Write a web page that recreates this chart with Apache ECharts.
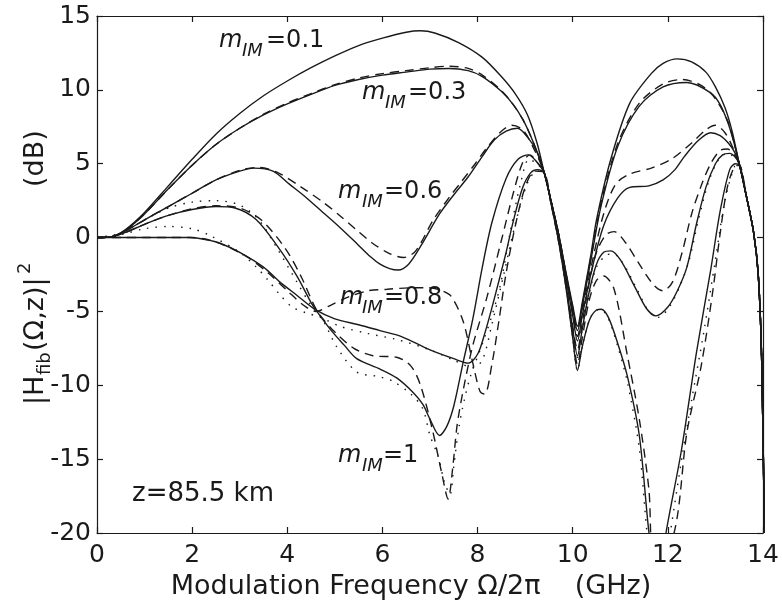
<!DOCTYPE html>
<html>
<head>
<meta charset="utf-8">
<script src="https://cdn.jsdelivr.net/npm/echarts@6/dist/echarts.min.js"></script>
<style>html,body{margin:0;padding:0;background:#fff}#c{width:782px;height:607px}</style>
</head>
<body>
<div id="c"></div>
<script>
// ---- axis ticks ----
var xTicks = [0, 2, 4, 6, 8, 10, 12, 14];
var yTicks = [-20, -15, -10, -5, 0, 5, 10, 15];

// ---- curves: [frequency GHz, |H|^2 dB] ----
var m01Solid = [[0,0],[0.3,0.05],[0.6,0.55],[1,1.7],[1.5,3.5],[2,5.3],[2.5,7.0],[3,8.4],[3.5,9.6],[4,10.6],[4.5,11.5],[5,12.3],[5.5,13.0],[6,13.5],[6.5,13.9],[6.8,14.0],[7.1,13.85],[7.6,13.2],[8.1,12.2],[8.5,10.9],[8.8,9.7],[9.05,8.3],[9.25,6.4],[9.4,4.4],[9.55,2.4],[9.7,0.3],[9.85,-2.2],[10.0,-4.6],[10.1,-6.0],[10.2,-4.4],[10.38,-1.2],[10.5,1.2],[10.8,5.3],[11.2,9.1],[11.65,11.1],[11.9,11.8],[12.2,12.1],[12.5,11.9],[12.8,11.2],[13.0,10.2],[13.2,8.8],[13.35,7.2],[13.5,5.0],[13.65,2.8],[13.8,0.4],[13.9,-2.5],[13.97,-8],[14.03,-20]];

var m03Solid = [[0,0],[0.3,0.05],[0.6,0.5],[1,1.6],[1.5,3.3],[2,4.9],[2.5,6.3],[3,7.4],[3.5,8.3],[4,9.05],[4.5,9.7],[5,10.3],[5.5,10.7],[6,11.0],[6.5,11.2],[7,11.4],[7.4,11.45],[7.8,11.3],[8.1,10.9],[8.5,9.9],[8.75,9.0],[8.95,8.0],[9.1,7.0],[9.25,5.8],[9.4,4.4],[9.55,2.4],[9.7,0.3],[9.85,-2.3],[10.0,-4.8],[10.1,-6.3],[10.2,-4.7],[10.4,-1.2],[10.6,2.2],[10.95,6.2],[11.4,8.9],[11.9,10.2],[12.4,10.5],[12.9,9.8],[13.1,9.0],[13.27,7.7],[13.4,6.3],[13.5,5.0],[13.65,2.8],[13.8,0.4],[13.9,-2.5],[13.97,-8],[14.03,-20]];
var m03Dashed = [[0,0],[0.3,0.05],[0.6,0.5],[1,1.6],[1.5,3.3],[2,4.9],[2.5,6.3],[3,7.4],[3.5,8.35],[4,9.1],[4.5,9.75],[5,10.35],[5.5,10.8],[6,11.1],[6.5,11.3],[7,11.5],[7.4,11.6],[7.8,11.45],[8.1,11.0],[8.5,9.95],[8.75,9.0],[8.95,8.0],[9.1,7.0],[9.25,5.8],[9.4,4.4],[9.55,2.4],[9.7,0.3],[9.85,-2.3],[10.0,-4.8],[10.1,-6.2],[10.2,-4.6],[10.4,-1.0],[10.6,2.4],[10.95,6.4],[11.4,9.1],[11.9,10.4],[12.3,10.7],[12.7,10.3],[13.0,9.4],[13.27,7.8],[13.4,6.3],[13.5,5.0],[13.65,2.8],[13.8,0.4],[13.9,-2.5],[13.97,-8],[14.03,-20]];

var m06Solid = [[0,0],[0.3,0.05],[0.6,0.45],[1,1.2],[1.5,2.1],[2,3.0],[2.5,3.9],[3,4.5],[3.3,4.7],[3.7,4.5],[4.05,3.6],[4.4,2.7],[4.75,1.7],[5.1,0.7],[5.46,-0.4],[5.75,-1.3],[5.95,-1.8],[6.15,-2.1],[6.33,-2.2],[6.55,-1.8],[6.8,-0.6],[7.2,1.6],[7.5,2.9],[7.8,4.1],[8.1,5.5],[8.35,6.6],[8.6,7.2],[8.84,7.4],[9.05,6.8],[9.25,5.8],[9.4,4.4],[9.55,2.4],[9.7,0.2],[9.85,-2.6],[10.0,-5.3],[10.1,-7.0],[10.2,-5.3],[10.4,-2.2],[10.65,0.8],[10.95,2.7],[11.2,3.4],[11.6,3.5],[11.9,3.9],[12.15,4.6],[12.35,5.5],[12.65,6.6],[12.9,7.1],[13.1,6.9],[13.27,6.4],[13.4,5.8],[13.5,5.0],[13.65,2.8],[13.8,0.4],[13.9,-2.5],[13.97,-8],[14.03,-20]];
var m06Dashed = [[0,0],[0.3,0.05],[0.6,0.45],[1,1.2],[1.5,2.1],[2,3.0],[2.5,3.9],[3,4.55],[3.4,4.75],[3.8,4.4],[4.3,3.4],[4.75,2.4],[5.1,1.5],[5.46,0.5],[5.8,-0.4],[6.16,-1.1],[6.45,-1.35],[6.7,-0.9],[7.07,1.2],[7.4,2.7],[7.64,3.7],[7.95,5.0],[8.2,6.1],[8.5,7.2],[8.72,7.6],[8.95,7.3],[9.2,5.9],[9.4,4.4],[9.55,2.4],[9.7,0.2],[9.85,-2.5],[10.0,-5.1],[10.1,-6.7],[10.2,-5.0],[10.4,-1.8],[10.65,1.6],[10.9,3.6],[11.2,4.3],[11.65,4.7],[12.07,5.3],[12.5,6.4],[12.8,7.3],[13.0,7.6],[13.2,7.1],[13.35,6.2],[13.5,5.0],[13.65,2.8],[13.8,0.4],[13.9,-2.5],[13.97,-8],[14.03,-20]];

var m08Solid = [[0,0],[0.3,0.05],[0.6,0.35],[1,0.9],[1.5,1.5],[2,1.9],[2.5,2.1],[2.9,2.0],[3.35,1.2],[3.84,-0.8],[4.2,-2.6],[4.5,-4.4],[4.6,-4.9],[4.9,-6.2],[5.2,-7.3],[5.46,-8.2],[5.95,-8.9],[6.3,-9.5],[6.65,-10.5],[6.85,-11.3],[7.0,-12.3],[7.2,-13.4],[7.35,-12.8],[7.5,-11.4],[7.7,-8.4],[7.9,-5.5],[8.1,-2.0],[8.3,1.0],[8.6,4.0],[8.85,5.3],[9.07,5.6],[9.25,5.1],[9.4,4.4],[9.55,2.3],[9.7,0.0],[9.85,-3.0],[10.0,-6.2],[10.1,-8.0],[10.2,-6.2],[10.35,-3.6],[10.5,-1.8],[10.65,-1.0],[10.8,-0.9],[11.0,-1.5],[11.3,-3.3],[11.55,-4.8],[11.75,-5.3],[12.0,-4.7],[12.2,-3.6],[12.4,-2.0],[12.6,0.9],[12.8,3.4],[13.0,5.0],[13.15,5.6],[13.3,5.7],[13.5,5.0],[13.65,2.8],[13.8,0.4],[13.9,-2.5],[13.97,-8],[14.03,-20]];
var m08Dashed = [[0,0],[0.3,0.05],[0.6,0.35],[1,0.9],[1.5,1.5],[2,1.95],[2.5,2.15],[3.0,2.0],[3.45,1.2],[3.95,-0.7],[4.3,-2.7],[4.55,-4.5],[4.7,-5.3],[5.0,-6.4],[5.4,-7.5],[5.8,-8.0],[6.3,-8.1],[6.6,-8.7],[6.8,-10.0],[7.05,-13.0],[7.25,-16.0],[7.38,-17.7],[7.48,-15.5],[7.57,-12.7],[7.7,-10.3],[7.9,-7.3],[8.2,-4.0],[8.5,-0.2],[8.75,3.0],[8.95,5.1],[9.1,5.6],[9.25,5.1],[9.4,4.4],[9.55,2.3],[9.7,0.0],[9.85,-2.9],[10.0,-6.0],[10.1,-7.6],[10.2,-5.8],[10.35,-3.0],[10.5,-1.0],[10.7,0.2],[10.87,0.4],[11.1,-0.3],[11.4,-1.8],[11.7,-3.2],[11.9,-3.6],[12.1,-3.0],[12.3,-1.0],[12.5,1.6],[12.7,3.5],[12.9,5.0],[13.1,5.9],[13.25,6.0],[13.4,5.6],[13.5,5.0],[13.65,2.8],[13.8,0.4],[13.9,-2.5],[13.97,-8],[14.03,-20]];
var m08Dotted = [[0,0],[0.5,0.3],[1,1.2],[1.5,2.0],[2,2.4],[2.5,2.5],[3.0,2.2],[3.4,1.2],[3.8,-0.8],[4.2,-3.0],[4.5,-4.6],[4.75,-5.6],[5.04,-7.4],[5.46,-9.1],[5.9,-9.4],[6.2,-9.7],[6.6,-10.6],[6.85,-11.6],[7.0,-13.4],[7.17,-14.8],[7.3,-16.5],[7.42,-17.4],[7.5,-15.5],[7.6,-13.0],[7.72,-11.0],[7.85,-9.4],[8.1,-7.2],[8.3,-5.3],[8.48,-3.2],[8.7,0.6],[8.9,3.6],[9.08,5.3],[9.25,5.0],[9.4,4.4],[9.55,2.3],[9.7,0.0],[9.85,-3.0],[10.0,-6.2],[10.1,-8.1],[10.2,-6.2],[10.35,-3.8],[10.5,-2.0],[10.7,-1.2],[10.85,-1.1],[11.05,-1.7],[11.35,-3.5],[11.6,-5.0],[11.8,-5.4],[12.05,-4.6],[12.25,-3.3],[12.45,-1.5],[12.65,1.3],[12.85,3.7],[13.05,5.2],[13.25,5.7],[13.5,5.0],[13.65,2.8],[13.8,0.4],[13.9,-2.5],[13.97,-8],[14.03,-20]];

var m1Solid = [[0,0],[0.5,0],[1,0],[1.5,0],[1.95,0],[2.3,-0.15],[2.6,-0.4],[3.0,-1.0],[3.5,-2.0],[3.84,-3.0],[4.2,-3.9],[4.6,-4.9],[5.0,-5.5],[5.5,-5.9],[5.95,-6.3],[6.4,-6.7],[7.0,-7.6],[7.5,-8.2],[7.8,-8.5],[8.0,-7.9],[8.15,-6.5],[8.33,-4.4],[8.6,-1.0],[8.75,1.1],[8.95,3.4],[9.12,4.4],[9.26,4.6],[9.4,4.4],[9.55,2.2],[9.7,-0.2],[9.85,-3.2],[10.0,-6.8],[10.1,-9.0],[10.2,-7.4],[10.35,-5.6],[10.5,-4.9],[10.6,-4.85],[10.75,-5.4],[10.95,-7.2],[11.15,-9.4],[11.4,-13.4],[11.6,-19.9],[11.78,-24],[11.96,-20],[12.28,-14.5],[12.6,-7.8],[12.9,-2.2],[13.1,1.8],[13.3,4.6],[13.42,5.0],[13.5,4.9],[13.65,2.8],[13.8,0.4],[13.9,-2.5],[13.97,-8],[14.03,-20]];
var m1Dashed = [[0,0],[0.5,0],[1,0],[1.5,0],[2,0],[2.4,-0.2],[2.8,-0.7],[3.2,-1.4],[3.6,-2.4],[4.0,-3.6],[4.35,-4.6],[4.6,-5.0],[4.9,-4.6],[5.3,-4.0],[5.7,-3.6],[6.1,-3.5],[6.6,-3.4],[7.0,-3.4],[7.25,-3.6],[7.45,-4.0],[7.7,-5.7],[7.9,-8.5],[8.05,-10.4],[8.15,-10.6],[8.3,-8.6],[8.45,-5.6],[8.6,-2.4],[8.8,0.9],[9.0,3.4],[9.2,4.5],[9.4,4.4],[9.55,2.2],[9.7,-0.2],[9.85,-3.1],[10.0,-6.5],[10.1,-8.6],[10.2,-6.8],[10.35,-4.2],[10.5,-2.9],[10.65,-2.6],[10.87,-3.5],[11.15,-8.0],[11.4,-12.3],[11.6,-17],[11.72,-22],[12.13,-20],[12.4,-13.2],[12.7,-8.7],[12.95,-3.5],[13.1,0.3],[13.25,3.4],[13.4,4.8],[13.5,4.9],[13.65,2.8],[13.8,0.4],[13.9,-2.5],[13.97,-8],[14.03,-20]];
var m1Dotted = [[0,0],[0.5,0.2],[1,0.6],[1.5,0.75],[2.0,0.6],[2.4,0.1],[3.0,-1.0],[3.35,-2.0],[3.6,-2.9],[3.84,-3.85],[4.1,-4.7],[4.4,-5.1],[4.7,-5.4],[5.1,-6.0],[5.7,-6.5],[6.3,-6.9],[7.0,-7.6],[7.5,-8.3],[7.9,-8.8],[8.1,-8.3],[8.3,-5.9],[8.55,-2.5],[8.8,1.0],[9.05,3.7],[9.25,4.5],[9.4,4.4],[9.55,2.2],[9.7,-0.2],[9.85,-3.2],[10.0,-6.8],[10.1,-9.0],[10.2,-7.4],[10.35,-5.6],[10.5,-4.9],[10.6,-4.9],[10.75,-5.5],[10.95,-7.4],[11.15,-9.8],[11.4,-14.3],[11.58,-20.5],[11.8,-25],[12.05,-20],[12.3,-14.8],[12.5,-11],[12.75,-6.5],[13.0,-1.5],[13.2,2.5],[13.4,4.8],[13.5,4.9],[13.65,2.8],[13.8,0.4],[13.9,-2.5],[13.97,-8],[14.03,-20]];

// ---- text ----
var xTitle = 'Modulation Frequency \u03A9/2\u03C0    (GHz)';
var curveLabels = ['0.1', '0.3', '0.6', '0.8', '1'];
var distanceLabel = 'z=85.5 km';

var INK = '#1a1a1a';
var FONT = '"DejaVu Sans", "Liberation Sans", sans-serif';
var DASH = [9, 6];
var DOT = [1.5, 7];

function line(name, data, dash) {
  return {
    name: name, type: 'line', data: data, smooth: 0.3,
    showSymbol: false, symbol: 'none', clip: true,
    lineStyle: { color: INK, width: 1.4, type: dash || 'solid' },
    emphasis: { disabled: true }, z: 3
  };
}

var series = [
  line('m=0.1', m01Solid),
  line('m=0.3', m03Solid), line('m=0.3 dashed', m03Dashed, DASH),
  line('m=0.6', m06Solid), line('m=0.6 dashed', m06Dashed, DASH),
  line('m=0.8', m08Solid), line('m=0.8 dashed', m08Dashed, DASH), line('m=0.8 dotted', m08Dotted, DOT),
  line('m=1', m1Solid), line('m=1 dashed', m1Dashed, DASH), line('m=1 dotted', m1Dotted, DOT)
];

function mLabel(x, baseline, val, dIM, dEq) {
  var cy = baseline - 8;
  return {
    type: 'group', x: x, y: cy, z: 10, silent: true,
    children: [
      { type: 'text', x: 0, y: 0, style: { text: 'm', fontSize: 24, fontStyle: 'italic', fontFamily: FONT, fill: INK, align: 'left', verticalAlign: 'middle' } },
      { type: 'text', x: dIM, y: 10, style: { text: 'IM', fontSize: 18, fontStyle: 'italic', fontFamily: FONT, fill: INK, align: 'left', verticalAlign: 'middle' } },
      { type: 'text', x: dEq, y: 0, style: { text: '=' + val, fontSize: 24, fontFamily: FONT, fill: INK, align: 'left', verticalAlign: 'middle' } }
    ]
  };
}

var chart = echarts.init(document.getElementById('c'), null, { renderer: 'canvas' });
var axisCommon = {
  type: 'value', min: 0, max: 14, interval: 2,
  axisLine: { show: true, onZero: false, lineStyle: { color: INK, width: 1.2 } },
  axisTick: { show: true, inside: true, length: 6, lineStyle: { color: INK, width: 1.2 } },
  splitLine: { show: false }
};
chart.setOption({
  animation: false,
  backgroundColor: '#ffffff',
  grid: { left: 97, right: 19, top: 16, bottom: 74, containLabel: false },
  xAxis: [
    Object.assign({}, axisCommon, {
      position: 'bottom',
      axisLabel: { show: true, margin: 10, fontSize: 25, fontFamily: FONT, color: INK,
        formatter: function (v) { return xTicks.indexOf(v) >= 0 ? String(v) : ''; } },
      name: xTitle, nameLocation: 'middle', nameGap: 40,
      nameTextStyle: { fontSize: 27, fontFamily: FONT, color: INK, padding: [0, 38, 0, 0] }
    }),
    Object.assign({}, axisCommon, { position: 'top', axisLabel: { show: false } })
  ],
  yAxis: [
    Object.assign({}, axisCommon, {
      min: -20, max: 15, interval: 5, position: 'left',
      axisLabel: { show: true, margin: 6, fontSize: 25, fontFamily: FONT, color: INK,
        formatter: function (v) { return yTicks.indexOf(v) >= 0 ? String(v) : ''; } }
    }),
    Object.assign({}, axisCommon, { min: -20, max: 15, interval: 5, position: 'right', axisLabel: { show: false } })
  ],
  series: series,
  graphic: [
    {
      type: 'group', x: 36, y: 405, rotation: Math.PI / 2, silent: true,
      children: [
        { type: 'text', x: 0, y: 0, style: { text: '|H', fontSize: 27, fontFamily: FONT, fill: INK, align: 'left', verticalAlign: 'middle' } },
        { type: 'text', x: 30, y: 9, style: { text: 'fib', fontSize: 18, fontFamily: FONT, fill: INK, align: 'left', verticalAlign: 'middle' } },
        { type: 'text', x: 54, y: 0, style: { text: '(\u03A9,z)|', fontSize: 27, fontFamily: FONT, fill: INK, align: 'left', verticalAlign: 'middle' } },
        { type: 'text', x: 131, y: -11, style: { text: '2', fontSize: 18, fontFamily: FONT, fill: INK, align: 'left', verticalAlign: 'middle' } },
        { type: 'text', x: 218, y: 0, style: { text: '(dB)', fontSize: 27, fontFamily: FONT, fill: INK, align: 'left', verticalAlign: 'middle' } }
      ]
    },
    mLabel(219, 49, curveLabels[0], 23, 47),
    mLabel(362, 101, curveLabels[1], 23, 46),
    mLabel(338, 200, curveLabels[2], 24, 46),
    mLabel(340, 306, curveLabels[3], 22, 44),
    mLabel(338, 464, curveLabels[4], 24, 45),
    { type: 'text', x: 132, y: 494, z: 10, silent: true,
      style: { text: distanceLabel, fontSize: 26, fontFamily: FONT, fill: INK, align: 'left', verticalAlign: 'middle' } }
  ]
});
</script>
</body>
</html>
